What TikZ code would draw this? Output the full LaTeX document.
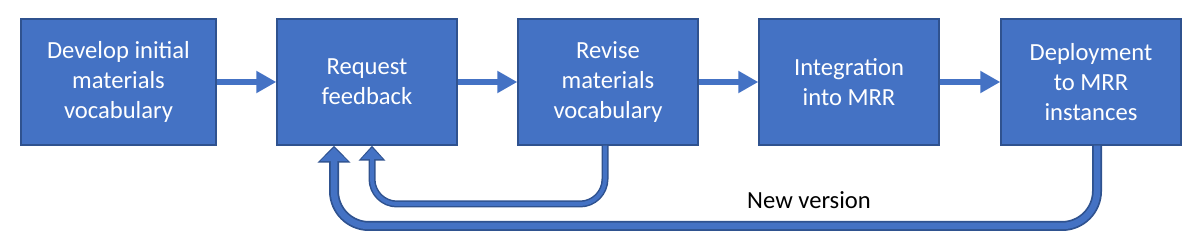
\documentclass[tikz,border=0pt]{standalone}
\usepackage{fontspec}
\setmainfont{Carlito}
\usetikzlibrary{arrows.meta}
\definecolor{stepblue}{HTML}{4472C4}
\definecolor{stepedge}{HTML}{2F528F}
\tikzset{
  stepbox/.style={draw=stepedge,line width=0.8pt,fill=stepblue,text=white,
    minimum width=3.6cm,minimum height=2.52cm,align=center,inner sep=2pt,
    font=\fontsize{14}{17}\selectfont},
  flow/.style={draw=stepblue,line width=0.13cm,
    -{Triangle[width=0.42cm,length=0.4cm]}},
  loopwide/.style={draw=stepedge,line width=0.2cm,rounded corners=0.7cm,
    -{Triangle[width=0.64cm,length=0.34cm]},
    postaction={draw=stepblue,line width=0.13cm,shorten >=0.04cm,
      -{Triangle[width=0.54cm,length=0.27cm]}}},
  loopnarrow/.style={draw=stepedge,line width=0.14cm,rounded corners=0.5cm,
    -{Triangle[width=0.52cm,length=0.3cm]},
    postaction={draw=stepblue,line width=0.08cm,shorten >=0.04cm,
      -{Triangle[width=0.42cm,length=0.23cm]}}}
}
\begin{document}
\begin{tikzpicture}[x=1cm,y=1cm]
  \useasboundingbox (0,0) rectangle (24,5);
  \node[stepbox,minimum width=3.9cm] (develop) at (2.37,3.36) {Develop initial\\materials\\vocabulary};
  \node[stepbox] (request) at (7.34,3.36) {Request\\feedback};
  \node[stepbox] (revise) at (12.16,3.36) {Revise\\materials\\vocabulary};
  \node[stepbox] (integrate) at (16.98,3.36) {Integration\\into MRR};
  \node[stepbox] (deploy) at (21.82,3.36) {Deployment\\to MRR\\instances};
  \draw[flow] (develop) -- (request);
  \draw[flow] (request) -- (revise);
  \draw[flow] (revise) -- (integrate);
  \draw[flow] (integrate) -- (deploy);
  % feedback loops
  \coordinate (lowwide) at (6.68,0.48);
  \coordinate (lownarrow) at (7.44,0.92);
  \draw[loopwide] ([xshift=0.12cm]deploy.south) |- (lowwide) -- (lowwide |- request.south);
  \draw[loopnarrow] ([xshift=-0.06cm]revise.south) |- (lownarrow) -- (lownarrow |- request.south);
  \node[font=\fontsize{14}{16}\selectfont] (newver) at (16.18,1.0) {New version};
\end{tikzpicture}
\end{document}
